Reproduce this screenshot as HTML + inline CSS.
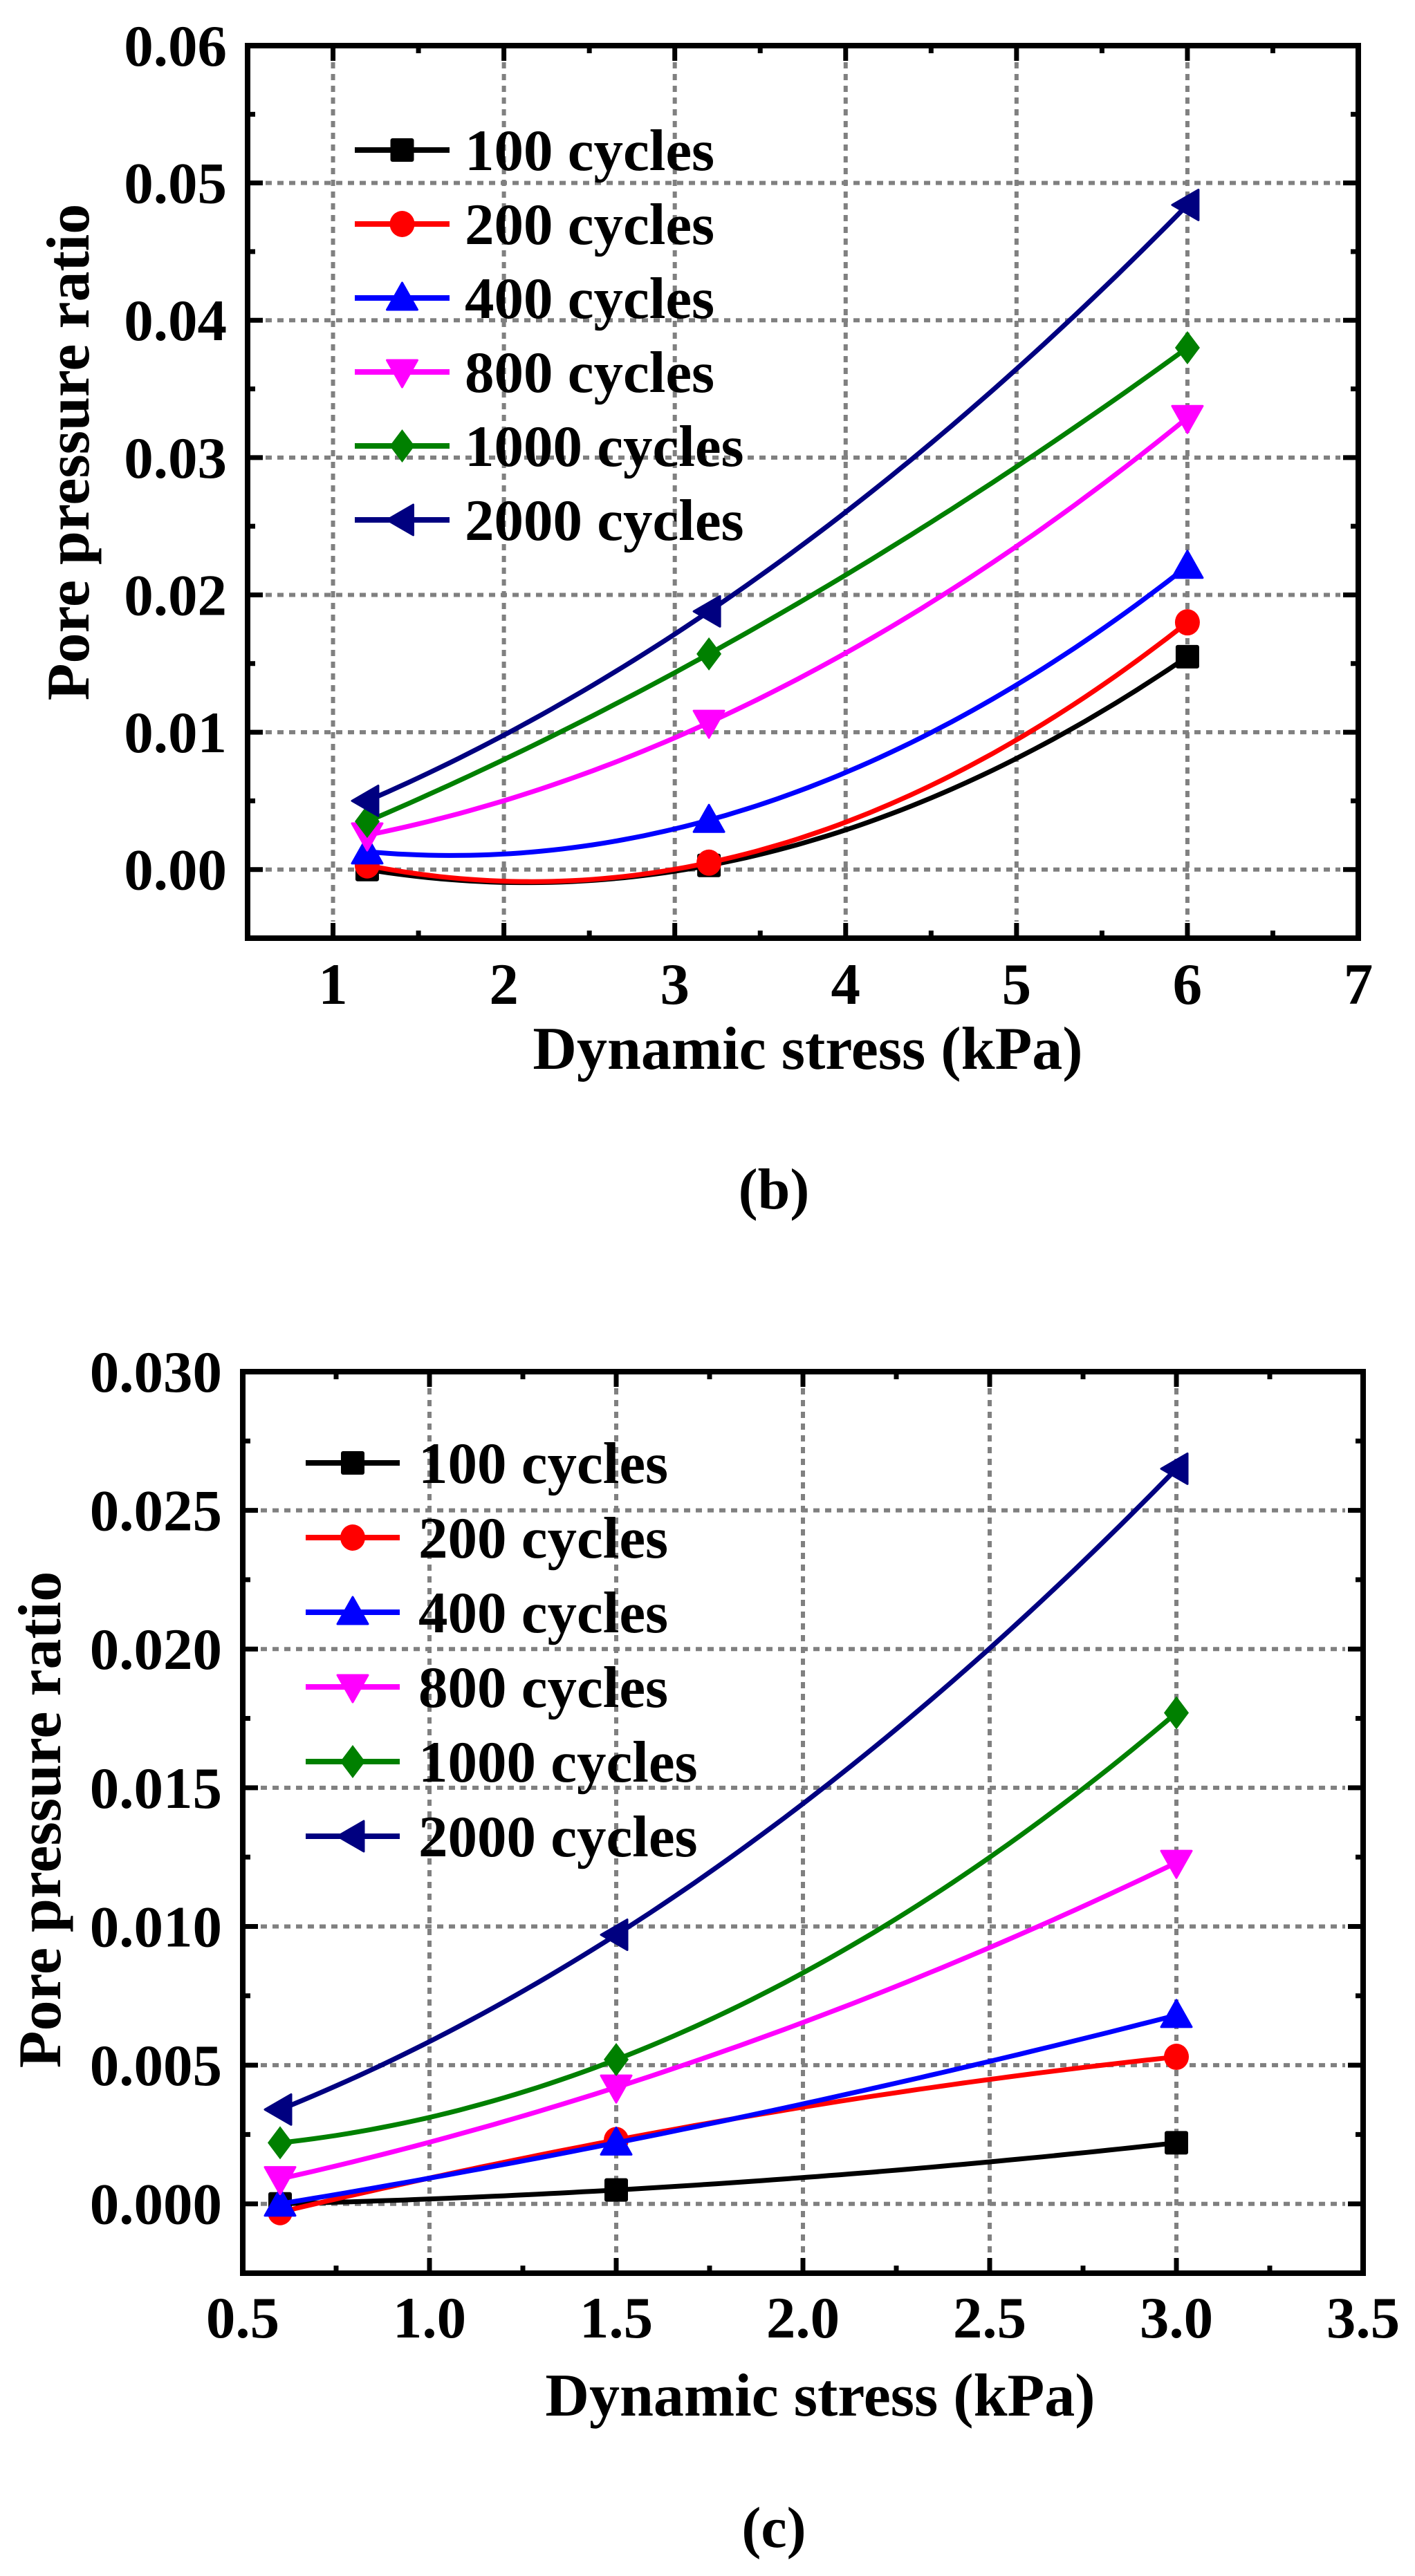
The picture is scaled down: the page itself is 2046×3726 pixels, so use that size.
<!DOCTYPE html>
<html><head><meta charset="utf-8"><style>
html,body{margin:0;padding:0;background:#fff}
svg{display:block}
text{font-family:"Liberation Serif",serif;font-weight:bold;fill:#000}
</style></head><body>
<svg id="fig" width="2046" height="3726" viewBox="0 0 2046 3726" xmlns="http://www.w3.org/2000/svg"></svg>
<script>
// ---- data for panel (b)
const bX = [1.2, 3.2, 6];
const bSeriesNames = ["100 cycles","200 cycles","400 cycles","800 cycles","1000 cycles","2000 cycles"];
const b100 = [0.0000, 0.0003, 0.0155];
const b200 = [0.0003, 0.0005, 0.0180];
const b400 = [0.0013, 0.0036, 0.0221];
const b800 = [0.0025, 0.0107, 0.0329];
const b1000 = [0.0035, 0.0157, 0.0380];
const b2000 = [0.0050, 0.0188, 0.0484];
const bXTicks = [1,2,3,4,5,6,7];
const bXTickLabels = ["1","2","3","4","5","6","7"];
const bYTicks = [0,0.01,0.02,0.03,0.04,0.05,0.06];
const bYTickLabels = ["0.00","0.01","0.02","0.03","0.04","0.05","0.06"];
// ---- data for panel (c)
const cX = [0.6, 1.5, 3.0];
const c100 = [0.0000, 0.0005, 0.0022];
const c200 = [-0.0003, 0.0023, 0.0053];
const c400 = [0.0000, 0.0022, 0.0068];
const c800 = [0.0009, 0.0042, 0.0123];
const c1000 = [0.0022, 0.0052, 0.0177];
const c2000 = [0.0034, 0.0097, 0.0265];
const cXTicks = [0.5,1.0,1.5,2.0,2.5,3.0,3.5];
const cXTickLabels = ["0.5","1.0","1.5","2.0","2.5","3.0","3.5"];
const cYTicks = [0,0.005,0.010,0.015,0.020,0.025,0.030];
const cYTickLabels = ["0.000","0.005","0.010","0.015","0.020","0.025","0.030"];

const colors = ["#000000","#ff0000","#0000ff","#ff00ff","#008000","#000080"];
const markers = ["square","circle","up","down","diamond","left"];
const NS = "http://www.w3.org/2000/svg";
const svg = document.getElementById('fig');

function mk(tag, attrs, parent){
  const e = document.createElementNS(NS, tag);
  for (const k in attrs) e.setAttribute(k, attrs[k]);
  (parent||svg).appendChild(e);
  return e;
}
function marker(g, type, cx, cy, color){
  let e;
  if (type==="square"){ e = mk('rect',{x:cx-17,y:cy-17,width:34,height:34,rx:3,fill:color},g); }
  else if (type==="circle"){ e = mk('ellipse',{cx:cx,cy:cy,rx:18,ry:19,fill:color},g); }
  else if (type==="up"){ e = mk('polygon',{points:`${cx},${cy-22} ${cx+22},${cy+17} ${cx-22},${cy+17}`,fill:color,'stroke':color,'stroke-width':3,'stroke-linejoin':'round'},g); }
  else if (type==="down"){ e = mk('polygon',{points:`${cx},${cy+22} ${cx+22},${cy-17} ${cx-22},${cy-17}`,fill:color,'stroke':color,'stroke-width':3,'stroke-linejoin':'round'},g); }
  else if (type==="diamond"){ e = mk('polygon',{points:`${cx},${cy-24} ${cx+18},${cy} ${cx},${cy+24} ${cx-18},${cy}`,fill:color},g); }
  else { e = mk('polygon',{points:`${cx-22},${cy} ${cx+16},${cy-22} ${cx+16},${cy+22}`,fill:color,'stroke':color,'stroke-width':3,'stroke-linejoin':'round'},g); }
  
  
  return e;
}
function quadInterp(xs, ys, x){
  let s=0;
  for (let i=0;i<3;i++){ let t=ys[i]; for(let j=0;j<3;j++) if(j!==i) t*=(x-xs[j])/(xs[i]-xs[j]); s+=t; }
  return s;
}
function drawChart(cfg){
  const g = mk('g',{});
  
  
  const L=cfg.left,R=cfg.right,T=cfg.top,B=cfg.bottom;
  const sx = v => L + (v-cfg.xmin)/(cfg.xmax-cfg.xmin)*(R-L);
  const sy = v => B - (v-cfg.ymin)/(cfg.ymax-cfg.ymin)*(B-T);
  const grid = mk('g',{stroke:'#808080','stroke-width':6,'stroke-dasharray':'9 8'},g);
  
  
  cfg.xticks.forEach(v=>{ if(v>cfg.xmin+1e-9 && v<cfg.xmax-1e-9){ const l=mk('line',{x1:sx(v),x2:sx(v),y1:T+24,y2:B-24},grid);   }});
  cfg.yticks.forEach(v=>{ if(v<cfg.ymax-1e-9){ const l=mk('line',{x1:L+26,x2:R-26,y1:sy(v),y2:sy(v)},grid);   }});
  const tk = mk('g',{stroke:'#000','stroke-width':7},g);
  
  
  const xstep = cfg.xticks[1]-cfg.xticks[0], ystep = cfg.yticks[1]-cfg.yticks[0];
  for (let v=cfg.xticks[0]; v<=cfg.xmax+1e-9; v+=xstep/2){
    const major = Math.abs(((v-cfg.xticks[0])/xstep)-Math.round((v-cfg.xticks[0])/xstep))<1e-6;
    const len = major?22:11;
    if (v<cfg.xmin-1e-9) continue;
    mk('line',{x1:sx(v),x2:sx(v),y1:B,y2:B-len},tk);
    mk('line',{x1:sx(v),x2:sx(v),y1:T,y2:T+len},tk);
  }
  for (let v=cfg.yticks[0]-ystep/2; v<=cfg.ymax+1e-9; v+=ystep/2){
    if (v<cfg.ymin-1e-9) continue;
    const major = Math.abs(((v-cfg.yticks[0])/ystep)-Math.round((v-cfg.yticks[0])/ystep))<1e-6;
    const len = major?22:11;
    mk('line',{x1:L,x2:L+len,y1:sy(v),y2:sy(v)},tk);
    mk('line',{x1:R,x2:R-len,y1:sy(v),y2:sy(v)},tk);
  }
  cfg.series.forEach((ys,i)=>{
    const sg = mk('g',{},g);
    
    
    let d='';
    const x0=cfg.xs[0], x1=cfg.xs[2];
    for(let k=0;k<=80;k++){ const x=x0+(x1-x0)*k/80; d+=(k?'L':'M')+sx(x).toFixed(1)+','+sy(quadInterp(cfg.xs,ys,x)).toFixed(1); }
    const p = mk('path',{d:d,fill:'none',stroke:colors[i],'stroke-width':7,'stroke-linejoin':'round'},sg);
    
    
    ys.forEach((y,j)=>marker(sg,markers[i],sx(cfg.xs[j]),sy(y),colors[i]));
  });
  const fr = mk('rect',{x:L,y:T,width:R-L,height:B-T,fill:'none',stroke:'#000','stroke-width':8},g);
  
  
  cfg.xticks.forEach((v,i)=>{ const t=mk('text',{x:sx(v),y:cfg.xLabelY,'text-anchor':'middle','font-size':85},g); t.textContent=cfg.xlabels[i];   });
  cfg.yticks.forEach((v,i)=>{ const t=mk('text',{x:cfg.yLabelRight,y:sy(v)+29,'text-anchor':'end','font-size':85},g); t.textContent=cfg.ylabels[i];   });
  const xt=mk('text',{x:cfg.xTitleX,y:cfg.xTitleY,'text-anchor':'middle','font-size':88},g); xt.textContent='Dynamic stress (kPa)';
   
  const yt=mk('text',{x:0,y:0,'text-anchor':'middle','font-size':88,transform:`translate(${cfg.yTitleX},${cfg.yTitleY}) rotate(-90)`},g); yt.textContent='Pore pressure ratio';
   
  const lg = mk('g',{},g);
  
  
  cfg.names.forEach((n,i)=>{
    const y = cfg.legTop + i*cfg.legStep;
    const eg = mk('g',{},lg);
    
    
    mk('line',{x1:cfg.legX1,x2:cfg.legX2,y1:y,y2:y,stroke:colors[i],'stroke-width':8},eg);
    marker(eg,markers[i],(cfg.legX1+cfg.legX2)/2,y,colors[i]);
    const t=mk('text',{x:cfg.legText,y:y+29,'font-size':85},eg); t.textContent=n;
  });
  const pl=mk('text',{x:1119,y:cfg.panelY,'text-anchor':'middle','font-size':84},g); pl.textContent=cfg.panel;
   
}
drawChart({name:'chart-b',left:358,right:1964,top:66,bottom:1357,xmin:0.5,xmax:7,ymin:-0.005,ymax:0.06,
  xs:bX,series:[b100,b200,b400,b800,b1000,b2000],names:bSeriesNames,
  xticks:bXTicks,xlabels:bXTickLabels,yticks:bYTicks,ylabels:bYTickLabels,
  xLabelY:1452,yLabelRight:328,xTitleX:1168,xTitleY:1546,yTitleX:128,yTitleY:654,
  legTop:217,legStep:107,legX1:513,legX2:650,legText:672,panel:'(b)',panelY:1748});
drawChart({name:'chart-c',left:351,right:1971,top:1984,bottom:3288,xmin:0.5,xmax:3.5,ymin:-0.0025,ymax:0.030,
  xs:cX,series:[c100,c200,c400,c800,c1000,c2000],names:bSeriesNames,
  xticks:cXTicks,xlabels:cXTickLabels,yticks:cYTicks,ylabels:cYTickLabels,
  xLabelY:3381,yLabelRight:321,xTitleX:1186,xTitleY:3494,yTitleX:87,yTitleY:2632,
  legTop:2116,legStep:108,legX1:442,legX2:578,legText:605,panel:'(c)',panelY:3684});
</script>
</body></html>
